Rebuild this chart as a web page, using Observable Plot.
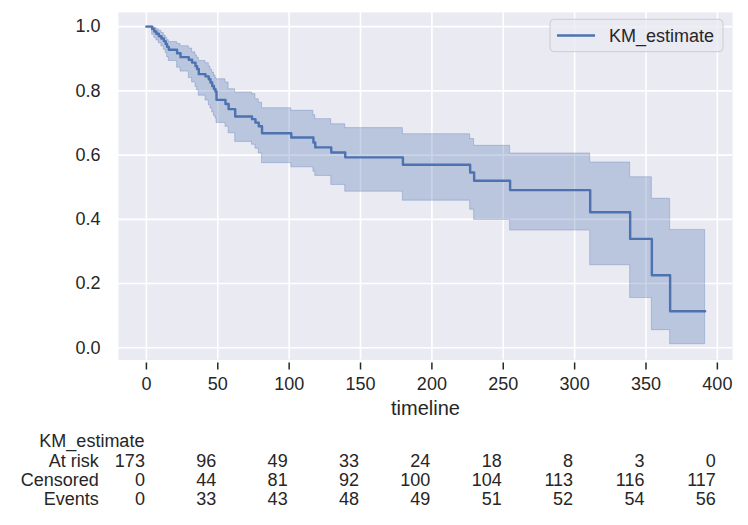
<!DOCTYPE html>
<html><head><meta charset="utf-8">
<script src="https://cdn.jsdelivr.net/npm/d3@7"></script>
<script src="https://cdn.jsdelivr.net/npm/@observablehq/plot@0.6"></script>
<style>
html,body{margin:0;padding:0;background:#fff;}
#chart{width:748px;height:525px;}
</style></head><body><div id="chart"></div>
<script>
// Kaplan-Meier estimate (step-after) with confidence band
const timeline = [0, 4, 5.5, 7, 8.7, 10.5, 12.2, 13.5, 14.5, 15.7, 21.5, 23.9, 29.7, 32, 34.4, 35.5, 36.7, 41.4, 43.7, 44.9, 46.1, 47.3, 48.4, 49.1, 55.4, 57.6, 62.2, 74, 76.4, 78.7, 81, 101.5, 117, 118.3, 129.5, 139.3, 179.7, 226.8, 229.6, 254.8, 310.9, 338.9, 354.1, 366.9, 391.4];
const kmEstimate = [1.0, 0.993, 0.985, 0.978, 0.970, 0.963, 0.955, 0.946, 0.937, 0.928, 0.917, 0.905, 0.897, 0.888, 0.877, 0.868, 0.852, 0.845, 0.836, 0.826, 0.815, 0.806, 0.798, 0.772, 0.759, 0.743, 0.720, 0.712, 0.701, 0.690, 0.668, 0.655, 0.639, 0.624, 0.608, 0.593, 0.570, 0.546, 0.520, 0.491, 0.422, 0.339, 0.226, 0.114, 0.114];
const ciLower = [1.0, 0.975, 0.965, 0.957, 0.948, 0.938, 0.928, 0.918, 0.905, 0.893, 0.872, 0.860, 0.840, 0.826, 0.812, 0.802, 0.785, 0.770, 0.755, 0.745, 0.733, 0.722, 0.715, 0.700, 0.688, 0.668, 0.641, 0.632, 0.620, 0.605, 0.575, 0.562, 0.548, 0.535, 0.507, 0.486, 0.458, 0.430, 0.398, 0.365, 0.257, 0.155, 0.055, 0.011, 0.011];
const ciUpper = [1.0, 0.999, 0.996, 0.992, 0.987, 0.980, 0.972, 0.965, 0.958, 0.952, 0.946, 0.939, 0.932, 0.920, 0.910, 0.903, 0.893, 0.886, 0.876, 0.866, 0.857, 0.848, 0.840, 0.836, 0.826, 0.805, 0.795, 0.790, 0.774, 0.763, 0.746, 0.738, 0.724, 0.712, 0.696, 0.684, 0.665, 0.650, 0.629, 0.605, 0.577, 0.531, 0.464, 0.367, 0.367];

const xTicks = [0, 50, 100, 150, 200, 250, 300, 350, 400];
const yTicks = [0, 0.2, 0.4, 0.6, 0.8, 1.0];
const seriesName = "KM_estimate";
const xLabel = "timeline";

// At-risk table
const rowLabels = ["At risk", "Censored", "Events"];
const atRisk = [173, 96, 49, 33, 24, 18, 8, 3, 0];
const censored = [0, 44, 81, 92, 100, 104, 113, 116, 117];
const events = [0, 33, 43, 48, 49, 51, 52, 54, 56];

const km = timeline.map((t, i) => ({t, s: kmEstimate[i], lo: ciLower[i], hi: ciUpper[i]}));
const rows = [atRisk, censored, events].map(vals => xTicks.map((t, i) => ({t, v: vals[i]})));

const font = "'Liberation Sans', Arial, Helvetica, sans-serif";
const blue = "#4C72B0";
const ink = "#262626";
const rowDy = [100.9, 120.7, 139.7];

const plot = Plot.plot({
  width: 748, height: 525,
  marginLeft: 118, marginRight: 16, marginTop: 12, marginBottom: 165.5,
  style: {fontFamily: font, fontSize: "18px", color: ink, background: "#fff", overflow: "visible"},
  x: {domain: [-19.55, 410.6]},
  y: {domain: [-0.038, 1.044]},
  marks: [
    Plot.frame({fill: "#EAEAF2", stroke: null}),
    Plot.gridX(xTicks, {stroke: "#fff", strokeOpacity: 1, strokeWidth: 1.6}),
    Plot.gridY(yTicks, {stroke: "#fff", strokeOpacity: 1, strokeWidth: 1.6}),
    Plot.areaY(km, {x: "t", y1: "lo", y2: "hi", curve: "step-after", fill: blue, fillOpacity: 0.3, stroke: blue, strokeOpacity: 0.3, strokeWidth: 1}),
    Plot.line(km, {x: "t", y: "s", curve: "step-after", stroke: blue, strokeWidth: 2.4}),
    Plot.axisY(yTicks, {tickSize: 0, tickPadding: 18, tickFormat: d3.format(".1f"), label: null, fill: ink}),
    Plot.axisX(xTicks, {tickSize: 7, dy: 3, tickPadding: 7, label: null, stroke: ink, fill: ink, strokeWidth: 1.5, tickFormat: d3.format("d")}),
    Plot.text([xLabel], {frameAnchor: "bottom", lineAnchor: "middle", dy: 48.5, fontSize: 20, fill: ink}),
    Plot.text([seriesName], {x: () => xTicks[0], frameAnchor: "bottom", lineAnchor: "middle", dy: 81.7, dx: -2, textAnchor: "end", fill: ink}),
    ...rowLabels.map((lab, r) => Plot.text([lab], {frameAnchor: "bottom-left", lineAnchor: "middle", dx: -19.7, dy: rowDy[r], textAnchor: "end", fill: ink})),
    ...rows.map((data, r) => Plot.text(data, {x: "t", text: "v", frameAnchor: "bottom", lineAnchor: "middle", dy: rowDy[r], dx: -1.5, textAnchor: "end", fill: ink}))
  ]
});

// Legend (upper right, inside the axes)
const svg = d3.select(plot);
const lg = svg.append("g");
lg.append("rect").attr("x", 550).attr("y", 19.3).attr("width", 173).attr("height", 32.4).attr("rx", 4)
  .attr("fill", "#EAEAF2").attr("fill-opacity", 0.8).attr("stroke", "#CCCCCC").attr("stroke-width", 1);
lg.append("line").attr("x1", 557).attr("x2", 595).attr("y1", 35.5).attr("y2", 35.5)
  .attr("stroke", blue).attr("stroke-width", 2.4);
lg.append("text").attr("x", 609).attr("y", 41.8).attr("fill", ink).attr("text-anchor", "start")
  .style("font-family", font).style("font-size", "18px").text(seriesName);

document.getElementById("chart").appendChild(plot);
</script>
</body></html>
